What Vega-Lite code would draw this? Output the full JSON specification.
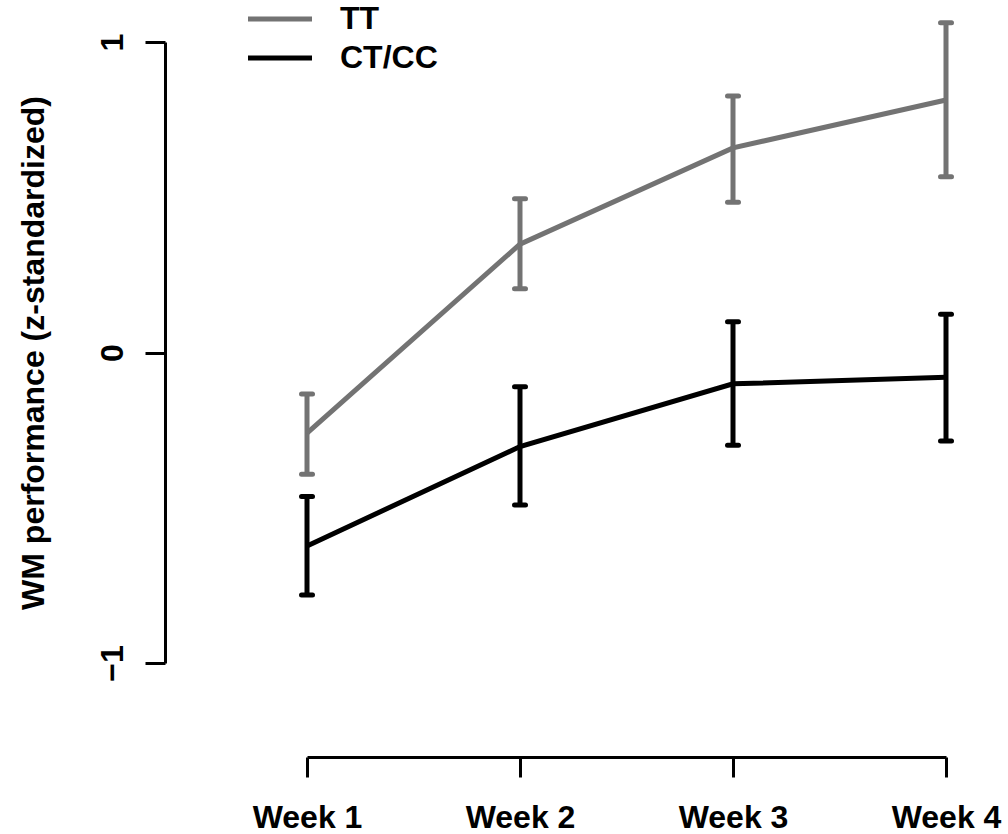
{
  "$schema": "https://vega.github.io/schema/vega-lite/v6.json",
  "width": 639,
  "height": 621,
  "autosize": {"type": "none"},
  "padding": {"left": 307, "top": 42, "right": 62, "bottom": 171},
  "background": "white",
  "config": {
    "view": {"stroke": null},
    "font": "Liberation Sans",
    "axis": {
      "grid": false,
      "domainColor": "black",
      "domainWidth": 3,
      "tickColor": "black",
      "tickWidth": 3,
      "tickSize": 20,
      "labelColor": "black",
      "labelFont": "Liberation Sans",
      "labelFontSize": 32,
      "labelFontWeight": "bold",
      "titleColor": "black",
      "titleFont": "Liberation Sans",
      "titleFontSize": 32,
      "titleFontWeight": "bold"
    },
    "axisY": {
      "tickCount": 2,
      "offset": 142,
      "title": "WM performance (z-standardized)",
      "labelAngle": -90,
      "labelAlign": "center",
      "labelBaseline": "bottom",
      "labelPadding": 16,
      "labelFlush": false,
      "labelOverlap": false,
      "titlePadding": 46
    }
  },
  "data": {
    "values": [
      {"week": "Week 1", "group": "TT", "mean": -0.260, "lo": -0.392, "hi": -0.134},
      {"week": "Week 2", "group": "TT", "mean": 0.349, "lo": 0.205, "hi": 0.495},
      {"week": "Week 3", "group": "TT", "mean": 0.659, "lo": 0.484, "hi": 0.826},
      {"week": "Week 4", "group": "TT", "mean": 0.813, "lo": 0.566, "hi": 1.062},
      {"week": "Week 1", "group": "CT/CC", "mean": -0.623, "lo": -0.781, "hi": -0.464},
      {"week": "Week 2", "group": "CT/CC", "mean": -0.303, "lo": -0.491, "hi": -0.110},
      {"week": "Week 3", "group": "CT/CC", "mean": -0.101, "lo": -0.299, "hi": 0.099},
      {"week": "Week 4", "group": "CT/CC", "mean": -0.080, "lo": -0.285, "hi": 0.123}
    ]
  },
  "encoding": {
    "x": {
      "field": "week",
      "type": "ordinal",
      "scale": {"type": "point", "padding": 0},
      "axis": {"title": null, "offset": 94, "labelAngle": 0, "labelPadding": 25}
    },
    "color": {
      "field": "group",
      "type": "nominal",
      "scale": {"domain": ["TT", "CT/CC"], "range": ["#737373", "#000000"]},
      "legend": {
        "title": null,
        "orient": "none",
        "legendX": -43,
        "legendY": -39,
        "symbolType": "M-4,0H4",
        "symbolSize": 256,
        "symbolStrokeWidth": 5,
        "labelFont": "Liberation Sans",
        "labelFontSize": 32,
        "labelFontWeight": "bold",
        "labelColor": "black",
        "labelOffset": 44,
        "rowPadding": 7,
        "padding": 0
      }
    }
  },
  "layer": [
    {
      "mark": {"type": "rule", "strokeWidth": 5},
      "encoding": {
        "y": {
          "field": "lo",
          "type": "quantitative",
          "scale": {"domain": [-1, 1], "nice": false, "zero": false},
          "title": "WM performance (z-standardized)"
        },
        "y2": {"field": "hi"}
      }
    },
    {
      "mark": {"type": "line", "strokeWidth": 5},
      "encoding": {
        "y": {"field": "mean", "type": "quantitative", "title": "WM performance (z-standardized)"}
      }
    },
    {
      "mark": {"type": "point", "shape": "stroke", "size": 121, "strokeWidth": 5, "strokeCap": "round", "opacity": 1},
      "encoding": {
        "y": {"field": "lo", "type": "quantitative", "title": "WM performance (z-standardized)"}
      }
    },
    {
      "mark": {"type": "point", "shape": "stroke", "size": 121, "strokeWidth": 5, "strokeCap": "round", "opacity": 1},
      "encoding": {
        "y": {"field": "hi", "type": "quantitative", "title": "WM performance (z-standardized)"}
      }
    }
  ]
}
